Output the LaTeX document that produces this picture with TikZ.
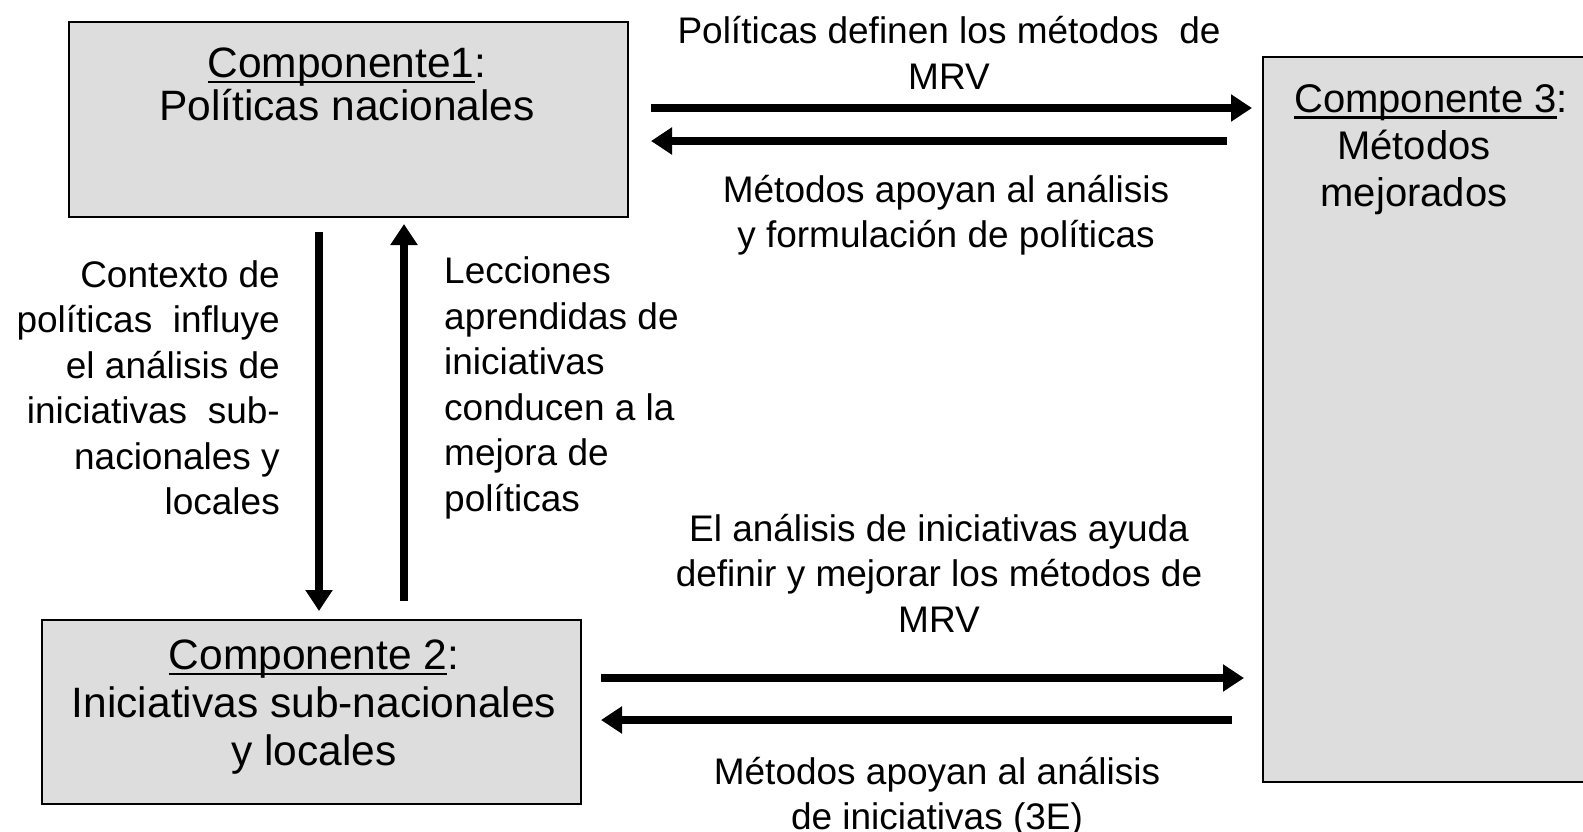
\documentclass[tikz,border=0pt]{standalone}
\usepackage{fontspec}
\setmainfont{Liberation Sans}
\usetikzlibrary{arrows.meta}
\newcommand\myul[1]{\setbox0\hbox{#1}\rlap{\rule[-6pt]{\wd0}{2.5pt}}\box0}
\begin{document}
\begin{tikzpicture}[x=1pt,y=-1pt,
  box/.style={draw=black, line width=2pt, fill=boxgray, inner sep=0pt, anchor=north west},
  boxtext/.style={align=center, inner sep=0pt},
  lbl/.style={font=\fontsize{37}{45.5}\selectfont, inner sep=0pt},
  arr/.style={line width=8pt, -{Triangle[length=21pt,width=26pt]}}]
\definecolor{boxgray}{HTML}{DDDDDD}
\useasboundingbox (0,0) rectangle (1583,831);
% boxes
\node[box, minimum width=559pt, minimum height=195pt] (b1) at (68,21) {};
\node[box, minimum width=340pt, minimum height=725pt] (b3) at (1262,56) {};
\node[box, minimum width=539pt, minimum height=184pt] (b2) at (41,619) {};
% box texts
\node[boxtext, font=\fontsize{42.5}{43}\selectfont] (t1) at (347,84) {\myul{Componente1}:\\Políticas nacionales};
\node[boxtext, font=\fontsize{40}{47}\selectfont] (t3) at (1414,150) {\hspace*{34pt}\myul{Componente 3}:\\Métodos\\mejorados};
\node[boxtext, font=\fontsize{42.5}{48}\selectfont] (t2) at (314,707) {\myul{Componente 2}:\\Iniciativas sub-nacionales\\y locales};
% labels
\node[lbl, align=center] (l1) at (949,53) {Políticas definen los métodos~ de\\MRV};
\node[lbl, align=center] (l2) at (946,215) {Métodos apoyan al análisis\\y formulación de políticas};
\node[lbl, align=right, anchor=east] (l3) at (280,388) {Contexto de\\políticas~ influye\\el análisis de\\iniciativas~ sub-\\nacionales y\\locales};
\node[lbl, align=left, anchor=west] (l4) at (444,388) {Lecciones\\aprendidas de\\iniciativas\\conducen a la\\mejora de\\políticas};
\node[lbl, align=center] (l5) at (939,573) {El análisis de iniciativas ayuda\\definir y mejorar los métodos de\\MRV};
\node[lbl, align=center] (l6) at (937,797) {Métodos apoyan al análisis\\de iniciativas (3E)};
% connector end points
\coordinate (a1s) at (651,108); \coordinate (a1e) at (1252,108);
\coordinate (a2s) at (1227,141); \coordinate (a2e) at (651,141);
\coordinate (a3s) at (601,678); \coordinate (a3e) at (1244,678);
\coordinate (a4s) at (1232,720); \coordinate (a4e) at (601,720);
\coordinate (v1s) at (319,232); \coordinate (v1e) at (319,611);
\coordinate (v2s) at (404,601); \coordinate (v2e) at (404,224);
% arrows
\draw[arr] (a1s) -- (a1e);
\draw[arr] (a2s) -- (a2e);
\draw[arr] (a3s) -- (a3e);
\draw[arr] (a4s) -- (a4e);
\draw[arr] (v1s) -- (v1e);
\draw[arr] (v2s) -- (v2e);
\end{tikzpicture}
\end{document}
